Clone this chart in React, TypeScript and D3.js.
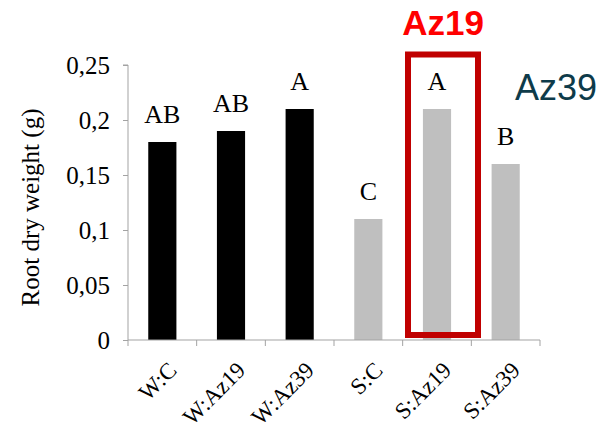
import React, { useEffect, useRef } from "react";
import * as d3 from "d3";

const categories = ["W:C", "W:Az19", "W:Az39", "S:C", "S:Az19", "S:Az39"];
const rootWeight = [0.18, 0.19, 0.21, 0.11, 0.21, 0.16];
const letters = ["AB", "AB", "A", "C", "A", "B"];
const barColors = ["#000000", "#000000", "#000000", "#bfbfbf", "#bfbfbf", "#bfbfbf"];
const yTicks = [0, 0.05, 0.1, 0.15, 0.2, 0.25];
const highlighted = "S:Az19";

export default function App() {
    const ref = useRef<SVGSVGElement>(null);

    useEffect(() => {
        const width = 605;
        const height = 433;
        const margin = { top: 65, right: 65, bottom: 93, left: 128 };

        const svg = d3.select(ref.current);
        svg.selectAll("*").remove();

        const x = d3.scaleBand()
            .domain(categories)
            .range([margin.left, width - margin.right])
            .paddingInner(0.59)
            .paddingOuter(0.295);

        const y = d3.scaleLinear()
            .domain([0, 0.25])
            .range([height - margin.bottom, margin.top]);

        const axisColor = "#a3a3a3";
        const serif = "'Liberation Serif', 'Times New Roman', serif";
        const sans = "'Liberation Sans', Arial, sans-serif";

        // bars
        svg.append("g")
            .selectAll("rect")
            .data(rootWeight)
            .join("rect")
            .attr("x", (_, i) => x(categories[i]))
            .attr("y", d => y(d))
            .attr("width", x.bandwidth())
            .attr("height", d => y(0) - y(d))
            .attr("fill", (_, i) => barColors[i]);

        // significance letters
        svg.append("g")
            .selectAll("text")
            .data(rootWeight)
            .join("text")
            .attr("x", (_, i) => x(categories[i]) + x.bandwidth() / 2)
            .attr("y", d => y(d) - 19)
            .attr("text-anchor", "middle")
            .attr("font-family", serif)
            .attr("font-size", 26)
            .attr("fill", "#000")
            .text((_, i) => letters[i]);

        // y axis
        const yAxis = svg.append("g")
            .attr("transform", `translate(${margin.left},0)`)
            .call(d3.axisLeft(y).tickValues(yTicks).tickSize(5).tickPadding(13)
                .tickFormat(d => String(d).replace(".", ",")));
        yAxis.select(".domain").attr("stroke", axisColor).attr("d", `M-5,${y(0.25)}H0V${y(0)}`);
        yAxis.selectAll(".tick line").attr("stroke", axisColor);
        yAxis.selectAll(".tick text")
            .attr("font-family", serif)
            .attr("font-size", 25)
            .attr("fill", "#000");

        // x axis with ticks at band boundaries
        const step = x.step();
        const start = margin.left;
        const xg = svg.append("g");
        xg.append("line")
            .attr("x1", start).attr("x2", width - margin.right)
            .attr("y1", y(0)).attr("y2", y(0))
            .attr("stroke", axisColor);
        xg.selectAll("line.tk")
            .data(d3.range(categories.length + 1))
            .join("line")
            .attr("class", "tk")
            .attr("x1", i => start + i * step)
            .attr("x2", i => start + i * step)
            .attr("y1", y(0)).attr("y2", y(0) + 6)
            .attr("stroke", axisColor);
        xg.selectAll("text")
            .data(categories)
            .join("text")
            .attr("transform", d => `translate(${x(d) + x.bandwidth() / 2 + 10},${y(0) + 26}) rotate(-45)`)
            .attr("text-anchor", "end")
            .attr("dy", "0.35em")
            .attr("font-family", serif)
            .attr("font-size", 23)
            .attr("fill", "#000")
            .text(d => d);

        // y axis title
        svg.append("text")
            .attr("transform", `translate(39,${(y(0) + y(0.25)) / 2 + 5}) rotate(-90)`)
            .attr("text-anchor", "middle")
            .attr("font-family", serif)
            .attr("font-size", 25)
            .attr("fill", "#000")
            .text("Root dry weight (g)");

        // highlight box
        const hx = x(highlighted) + x.bandwidth() / 2 + 6;
        svg.append("rect")
            .attr("x", hx - 35)
            .attr("y", 54.5)
            .attr("width", 70)
            .attr("height", 335 - 54.5)
            .attr("fill", "none")
            .attr("stroke", "#c00000")
            .attr("stroke-width", 6);

        svg.append("text")
            .attr("x", hx)
            .attr("y", 35)
            .attr("text-anchor", "middle")
            .attr("font-family", sans)
            .attr("font-weight", "bold")
            .attr("font-size", 35)
            .attr("fill", "#ff0000")
            .text("Az19");

        svg.append("text")
            .attr("x", 515)
            .attr("y", 100)
            .attr("font-family", sans)
            .attr("font-size", 36)
            .attr("fill", "#0e3b4a")
            .text("Az39");
    }, []);

    return (
        <svg ref={ref} width={605} height={433}
            style={{ position: "absolute", left: 0, top: 0, background: "#fff" }} />
    );
}
